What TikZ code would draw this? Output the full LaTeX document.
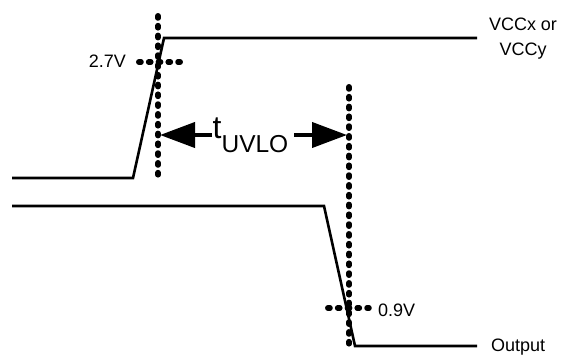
\documentclass[tikz,border=0pt]{standalone}
\usepackage{fontspec}
\setmainfont{Liberation Sans}
\usetikzlibrary{arrows.meta}
\begin{document}
\begin{tikzpicture}[x=1pt,y=-1pt,
  wave/.style={line width=2.6pt,line join=miter},
  dotline/.style={line width=5.5pt,line cap=round,dash pattern=on 2.2pt off 7.6pt},
  lbl/.style={inner sep=0pt,font=\fontsize{18}{25}\selectfont},
  bigarrow/.style={line width=4pt,-{Triangle[length=35pt,width=25pt]}}]
\useasboundingbox (0,0) rectangle (564,356);
% top waveform
\coordinate (a1) at (12,178);
\coordinate (a2) at (133,178);
\coordinate (a3) at (164,38);
\coordinate (a4) at (477,38);
\draw[wave] (a1) -- (a2) -- (a3) -- (a4);
% bottom waveform
\coordinate (b1) at (12,206);
\coordinate (b2) at (324,206);
\coordinate (b3) at (355,346);
\coordinate (b4) at (477,346);
\draw[wave] (b1) -- (b2) -- (b3) -- (b4);
% dotted markers
\coordinate (v1t) at (158,15.8);
\coordinate (v1b) at (158,175);
\coordinate (h1l) at (138.8,62);
\coordinate (h1r) at (181,62);
\draw[dotline] (v1t) -- (v1b);
\draw[dotline] (h1l) -- (h1r);
\coordinate (v2t) at (349,86.8);
\coordinate (v2b) at (349,344);
\coordinate (h2l) at (327.8,308);
\coordinate (h2r) at (369,308);
\draw[dotline] (v2t) -- (v2b);
\draw[dotline] (h2l) -- (h2r);
% labels
\node[lbl,align=center] (vcc) at (523,39) {VCCx or\\VCCy};
\node[lbl,anchor=base east] (v27) at (126,67) {2.7V};
\node[lbl,anchor=base west] (v09) at (378,316) {0.9V};
\node[lbl,anchor=base west] (out) at (491,351) {Output};
\node[inner sep=0pt,anchor=base west] (tuvlo) at (212.5,138.5)
  {\fontsize{32}{34}\selectfont t\fontsize{24.5}{26}\selectfont\raisebox{-13.5pt}{UVLO}};
% arrows
\coordinate (tipL) at (160,135);
\coordinate (tipR) at (347,135);
\coordinate (stL) at (212,135);
\coordinate (stR) at (294,135);
\draw[bigarrow] (stL) -- (tipL);
\draw[bigarrow] (stR) -- (tipR);
\end{tikzpicture}
\end{document}
